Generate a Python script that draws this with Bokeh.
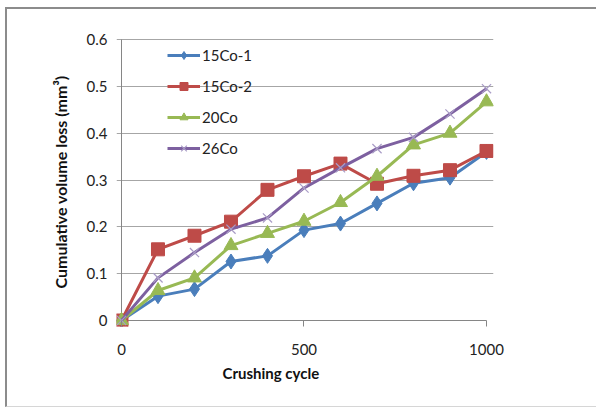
from bokeh.plotting import figure
from bokeh.models import Range1d, FixedTicker, Legend, LegendItem, Title
from bokeh.embed import file_html
from bokeh.resources import INLINE

cycles = [0, 100, 200, 300, 400, 500, 600, 700, 800, 900, 1000]
co15_1 = [0, 0.052, 0.067, 0.126, 0.138, 0.193, 0.207, 0.250, 0.293, 0.305, 0.360]
co15_2 = [0, 0.152, 0.181, 0.211, 0.279, 0.308, 0.335, 0.292, 0.309, 0.321, 0.362]
co20 = [0, 0.064, 0.091, 0.160, 0.186, 0.212, 0.252, 0.308, 0.375, 0.400, 0.467]
co26 = [0, 0.091, 0.145, 0.195, 0.219, 0.283, 0.326, 0.367, 0.391, 0.441, 0.495]

series_names = ["15Co-1", "15Co-2", "20Co", "26Co"]
x_ticks = [0, 500, 1000]
x_tick_labels = ["0", "500", "1000"]
y_ticks = [0, 0.1, 0.2, 0.3, 0.4, 0.5, 0.6]
y_tick_labels = ["0", "0.1", "0.2", "0.3", "0.4", "0.5", "0.6"]
x_title = "Crushing cycle"
y_title = "Cumulative volume loss (mm\u00b3)"

FONT = "Lato"
AXIS_GRAY = "#868686"

p = figure(width=591, height=400, output_backend="svg", toolbar_location=None,
           x_range=Range1d(-13.7, 1019.2), y_range=Range1d(-0.01281, 0.60427),
           min_border_left=109, min_border_right=105, min_border_top=28, min_border_bottom=83)
p.styles = {"margin-left": "5px", "margin-top": "7px",
            "border-left": "2px solid #8C8C8C", "border-top": "2px solid #8C8C8C",
            "border-bottom": "1px solid #D6D6D6"}
p.outline_line_color = None
p.background_fill_color = "white"
p.border_fill_color = "white"

p.xaxis.ticker = FixedTicker(ticks=x_ticks)
p.yaxis.ticker = FixedTicker(ticks=y_ticks)
p.xaxis.major_label_overrides = {t: l for t, l in zip(x_ticks, x_tick_labels)}
p.yaxis.major_label_overrides = {t: l for t, l in zip(y_ticks, y_tick_labels)}
for ax in (p.xaxis, p.yaxis):
    ax.axis_line_color = None
    ax.major_tick_line_color = AXIS_GRAY
    ax.minor_tick_line_color = None
    ax.major_label_text_font = FONT
    ax.major_label_text_font_size = "15px"
    ax.major_label_text_color = "#222222"
p.xaxis.major_tick_in = 6
p.xaxis.major_tick_out = 0
p.yaxis.major_tick_in = 0
p.yaxis.major_tick_out = 0
p.xaxis.major_label_standoff = 17
p.yaxis.major_label_standoff = 9
p.yaxis.axis_label = y_title
p.yaxis.axis_label_text_font = FONT
p.yaxis.axis_label_text_font_style = "bold"
p.yaxis.axis_label_text_font_size = "16px"
p.yaxis.axis_label_text_color = "#111111"
p.yaxis.axis_label_standoff = 14

p.xgrid.grid_line_color = None
p.ygrid.ticker = FixedTicker(ticks=y_ticks[1:])
p.ygrid.grid_line_color = "#A6A6A6"
p.ygrid.grid_line_width = 1

# axis lines (x axis at y=0, y axis at x=0)
p.segment(x0=[x_ticks[0], x_ticks[0]], y0=[y_ticks[0], y_ticks[0]],
          x1=[x_ticks[-1], x_ticks[0]], y1=[y_ticks[0], y_ticks[-1]],
          line_color=AXIS_GRAY, line_width=1)

colors = ["#4A7EBB", "#BE4B48", "#98B954", "#7D60A0"]
data = [co15_1, co15_2, co20, co26]
markers = ["diamond", "square", "triangle", "x"]
sizes = [15, 13, 14, 13]

items = []
for name, ys, c, m, s in zip(series_names, data, colors, markers, sizes):
    r1 = p.line(cycles, ys, line_color=c, line_width=3)
    if m == "x":
        r2 = p.scatter(cycles, ys, marker=m, size=s, line_color="#A99CC6", line_width=1.2)
    else:
        r2 = p.scatter(cycles, ys, marker=m, size=s, fill_color=c, line_color=c, line_width=1)
    items.append(LegendItem(label=name, renderers=[r1, r2]))

legend = Legend(items=items, location=(51, 168), orientation="vertical",
                border_line_color=None, background_fill_alpha=0,
                glyph_width=33, glyph_height=20, label_height=20, spacing=11,
                label_standoff=2, padding=0, margin=0,
                label_text_font=FONT, label_text_font_size="15px", label_text_color="#222222")
p.add_layout(legend, "center")

p.add_layout(Title(text=x_title, align="left", offset=106, standoff=9,
                   text_font=FONT, text_font_style="bold", text_font_size="15px",
                   text_color="#111111"), "below")

open("out.html", "w").write(file_html(p, INLINE))
